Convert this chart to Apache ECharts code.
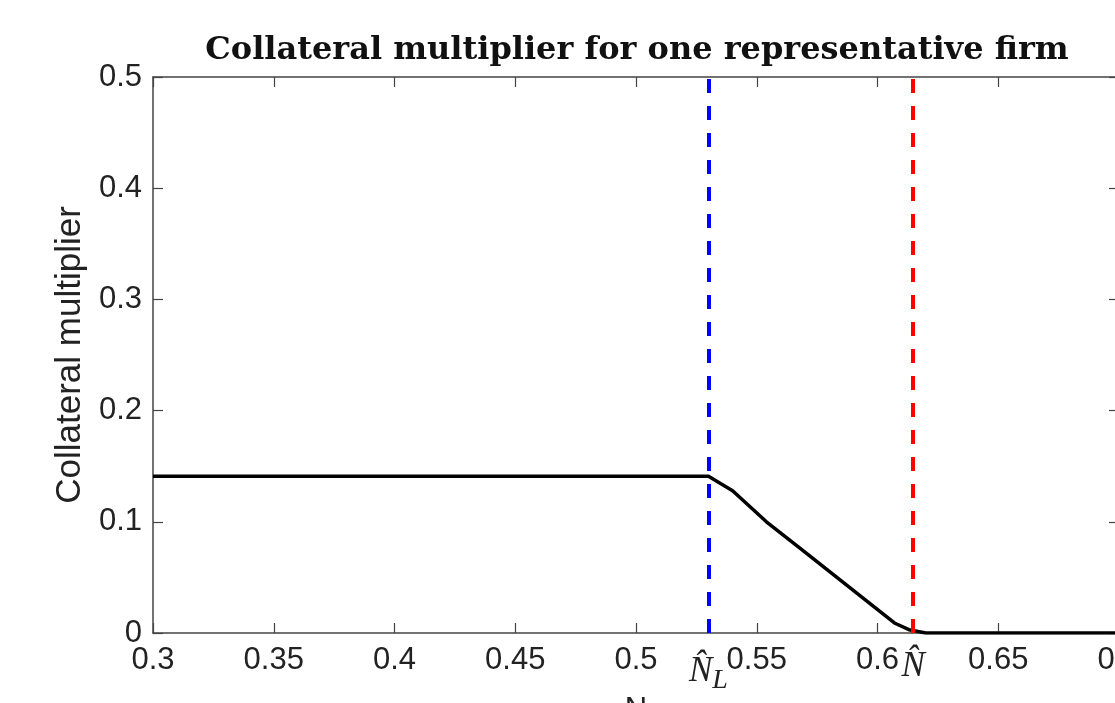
<!DOCTYPE html>
<html>
<head>
<meta charset="utf-8">
<script src="https://cdn.jsdelivr.net/npm/echarts@6/dist/echarts.min.js"></script>
<style>
  html, body { margin: 0; padding: 0; background: #ffffff; }
  #chart { width: 1115px; height: 703px; }
</style>
</head>
<body>
<div id="chart"></div>
<script>
// ---- data ----
const titleText = 'Collateral multiplier for one representative firm';
const yAxisName = 'Collateral multiplier';
const xAxisName = 'N';
const curveX = [0.30, 0.53, 0.540, 0.554, 0.568, 0.582, 0.596, 0.607, 0.613, 0.620, 0.70];
const curveY = [0.141, 0.141, 0.128, 0.100, 0.076, 0.052, 0.028, 0.009, 0.003, 0.0, 0.0];
const nHatL = 0.53;    // blue dashed line
const nHat = 0.6148;   // red dashed line
const xTicks = { min: 0.3, max: 0.7, interval: 0.05 };
const yTicks = { min: 0, max: 0.5, interval: 0.1 };

const chart = echarts.init(document.getElementById('chart'), null, { renderer: 'canvas' });

const axisColor = '#444444';
const labelFont = 'Liberation Sans, Arial, sans-serif';

const curveData = curveX.map((x, i) => [x, curveY[i]]);

const option = {
  backgroundColor: '#ffffff',
  animation: false,
  title: {
    text: titleText,
    left: 637,
    top: 35,
    padding: 0,
    textAlign: 'center',
    textStyle: {
      fontFamily: 'DejaVu Serif',
      fontWeight: 'bold',
      fontSize: 32,
      color: '#111111'
    }
  },
  grid: { left: 153, right: -4, top: 77, bottom: 70, containLabel: false, outerBoundsMode: 'none' },
  xAxis: [
    {
      type: 'value',
      position: 'bottom',
      min: xTicks.min, max: xTicks.max, interval: xTicks.interval,
      name: xAxisName,
      nameLocation: 'middle',
      nameGap: 62,
      nameTextStyle: { fontFamily: labelFont, fontSize: 31, color: '#222' },
      axisLine: { show: true, onZero: false, lineStyle: { color: axisColor, width: 1.5 } },
      axisTick: { show: true, inside: true, length: 10, lineStyle: { color: axisColor, width: 1.2 } },
      axisLabel: { fontFamily: labelFont, fontSize: 31, color: '#222', margin: 12, showMinLabel: true, showMaxLabel: true, hideOverlap: false },
      splitLine: { show: false }
    },
    {
      type: 'value',
      position: 'top',
      min: xTicks.min, max: xTicks.max, interval: xTicks.interval,
      axisLine: { show: true, onZero: false, lineStyle: { color: axisColor, width: 1.5 } },
      axisTick: { show: true, inside: true, length: 10, lineStyle: { color: axisColor, width: 1.2 } },
      axisLabel: { show: false },
      splitLine: { show: false }
    }
  ],
  yAxis: [
    {
      type: 'value',
      position: 'left',
      min: yTicks.min, max: yTicks.max, interval: yTicks.interval,
      name: yAxisName,
      nameLocation: 'middle',
      nameGap: 65,
      nameTextStyle: { fontFamily: labelFont, fontSize: 35, color: '#222' },
      axisLine: { show: true, onZero: false, lineStyle: { color: axisColor, width: 1.5 } },
      axisTick: { show: true, inside: true, length: 10, lineStyle: { color: axisColor, width: 1.2 } },
      axisLabel: { fontFamily: labelFont, fontSize: 31, color: '#222', margin: 11 },
      splitLine: { show: false }
    },
    {
      type: 'value',
      position: 'right',
      min: yTicks.min, max: yTicks.max, interval: yTicks.interval,
      axisLine: { show: true, onZero: false, lineStyle: { color: axisColor, width: 1.5 } },
      axisTick: { show: true, inside: true, length: 10, lineStyle: { color: axisColor, width: 1.2 } },
      axisLabel: { show: false },
      splitLine: { show: false }
    }
  ],
  series: [
    {
      type: 'line',
      xAxisIndex: 0,
      yAxisIndex: 0,
      data: curveData,
      showSymbol: false,
      symbol: 'none',
      lineStyle: { color: '#000000', width: 3.5 },
      z: 3,
      markLine: {
        silent: true,
        precision: 6,
        symbol: ['none', 'none'],
        animation: false,
        label: {
          show: true,
          position: 'start',
          distance: 16,
          color: '#222',
          rich: {
            n: { fontFamily: 'Liberation Serif', fontStyle: 'italic', fontSize: 35, color: '#222' },
            s: { fontFamily: 'Liberation Serif', fontStyle: 'italic', fontSize: 28, color: '#222', padding: [18, 0, 0, 0] }
          }
        },
        data: [
          {
            xAxis: nHatL,
            lineStyle: { color: '#0000ff', width: 4, type: [14, 13] },
            label: { formatter: '{n|N\u0302}{s|L}' }
          },
          {
            xAxis: nHat,
            lineStyle: { color: '#ff0000', width: 4, type: [14, 13] },
            label: { formatter: '{n|N\u0302}' }
          }
        ]
      }
    }
  ]
};

chart.setOption(option);
</script>
</body>
</html>
